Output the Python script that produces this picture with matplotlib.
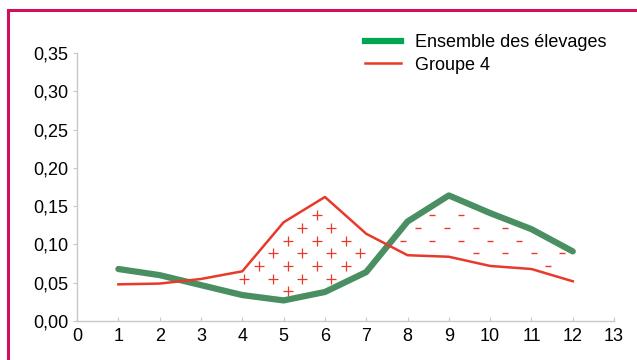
import numpy as np
import matplotlib
matplotlib.use("Agg")
import matplotlib.pyplot as plt
from matplotlib.patches import Rectangle
from matplotlib.lines import Line2D
from matplotlib.ticker import FuncFormatter

mois = [1, 2, 3, 4, 5, 6, 7, 8, 9, 10, 11, 12]
ensemble = [0.068, 0.060, 0.047, 0.034, 0.027, 0.038, 0.064, 0.130, 0.164, 0.141, 0.120, 0.091]
groupe4 = [0.048, 0.049, 0.055, 0.065, 0.129, 0.162, 0.114, 0.086, 0.084, 0.072, 0.068, 0.052]

plt.rcParams['font.family'] = ['Liberation Sans', 'DejaVu Sans']

GREEN = '#4a8f62'
GREEN_LEG = '#00a651'
RED = '#e8392a'
GREY = '#c8c8c8'

fig = plt.figure(figsize=(6.37, 3.6), dpi=100)
ax = fig.add_axes([0.121, 0.108, 0.843, 0.745])

ax.plot(mois, ensemble, color=GREEN, lw=4.5, solid_capstyle='round', zorder=3)
ax.plot(mois, groupe4, color=RED, lw=1.8, zorder=3)

# pattern of + / - signs between the two curves (staggered lattice)
xs = np.arange(0.9, 12.5, 0.7)
ys = np.arange(0.006, 0.17, 0.0165)
plus_x, plus_y, minus_x, minus_y = [], [], [], []
for j, yv in enumerate(ys):
    off = (j % 2) * 0.35
    for xv in xs + off:
        if xv < 1.2 or xv > 12.1:
            continue
        g = np.interp(xv, mois, ensemble)
        r = np.interp(xv, mois, groupe4)
        lo, hi = min(g, r), max(g, r)
        if hi - lo < 0.02:
            continue
        if lo + 0.008 < yv < hi - 0.008:
            if r > g:
                plus_x.append(xv)
                plus_y.append(yv)
            else:
                minus_x.append(xv)
                minus_y.append(yv)
ax.scatter(plus_x, plus_y, marker='+', s=55, color=RED, lw=0.9, zorder=2)
ax.scatter(minus_x, minus_y, marker='_', s=18, color=RED, lw=1.0, zorder=2)

ax.set_xlim(0, 13)
ax.set_ylim(0, 0.35)
ax.set_xticks(range(0, 14))
ax.set_yticks(np.arange(0, 0.351, 0.05))
ax.yaxis.set_major_formatter(FuncFormatter(lambda v, p: f"{v:.2f}".replace('.', ',')))
for s in ['top', 'right']:
    ax.spines[s].set_visible(False)
for s in ['left', 'bottom']:
    ax.spines[s].set_color(GREY)
    ax.spines[s].set_linewidth(1.0)
ax.tick_params(axis='y', direction='out', length=3, color=GREY, labelsize=13, pad=3)
ax.tick_params(axis='x', direction='in', length=3, color=GREY, labelsize=13, pad=5)

handles = [Line2D([], [], color=GREEN_LEG, lw=4.5),
           Line2D([], [], color=RED, lw=1.8)]
fig.legend(handles, ['Ensemble des élevages', 'Groupe 4'], loc='upper left',
           bbox_to_anchor=(0.547, 0.95), frameon=False, fontsize=13,
           handlelength=2.0, handletextpad=0.8, labelspacing=0.3)

# frame of the original figure (only top/left visible)
fig.add_artist(Rectangle((0.012, -0.1), 1.2, 1.071, transform=fig.transFigure,
                         fill=False, edgecolor='#d0105a', lw=2.2, clip_on=False))

fig.savefig('out.png', dpi=100)
